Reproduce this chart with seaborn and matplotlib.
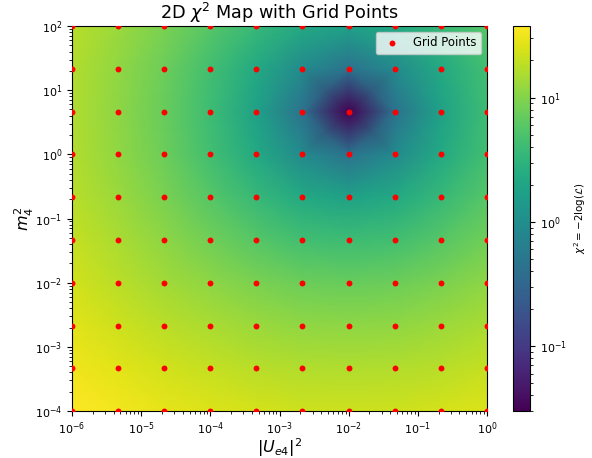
import numpy as np
import pandas as pd
import matplotlib
matplotlib.use("Agg")
import matplotlib.pyplot as plt
from matplotlib.colors import LogNorm
import seaborn as sns

# Grid coordinates (log-spaced)
u_e4_sq = [1e-6, 4.64e-6, 2.15e-5, 1e-4, 4.64e-4, 2.15e-3, 1e-2, 4.64e-2, 0.215, 1.0]
m4_sq = [1e-4, 4.64e-4, 2.15e-3, 1e-2, 4.64e-2, 0.215, 1.0, 4.64, 21.5, 100.0]

# chi^2 values at grid nodes (rows: m4_sq from low to high; cols: u_e4_sq low to high)
chi2_rows = [
    [37.8, 32.9, 28.9, 25.8, 23.6, 22.2, 21.8, 22.2, 23.6, 25.8],
    [32.0, 27.1, 23.1, 20.0, 17.8, 16.4, 16.0, 16.4, 17.8, 20.0],
    [27.1, 22.2, 18.2, 15.1, 12.9, 11.6, 11.1, 11.6, 12.9, 15.1],
    [23.1, 18.2, 14.2, 11.1, 8.9, 7.6, 7.1, 7.6, 8.9, 11.1],
    [20.0, 15.1, 11.1, 8.0, 5.8, 4.4, 4.0, 4.4, 5.8, 8.0],
    [17.8, 12.9, 8.9, 5.8, 3.6, 2.2, 1.8, 2.2, 3.6, 5.8],
    [16.4, 11.6, 7.6, 4.4, 2.2, 0.89, 0.44, 0.89, 2.2, 4.4],
    [16.0, 11.1, 7.1, 4.0, 1.8, 0.44, 0.03, 0.44, 1.8, 4.0],
    [16.4, 11.6, 7.6, 4.4, 2.2, 0.89, 0.44, 0.89, 2.2, 4.4],
    [17.8, 12.9, 8.9, 5.8, 3.6, 2.2, 1.8, 2.2, 3.6, 5.8],
]

W, H = 592, 458
fig = plt.figure(figsize=(W / 100, H / 100), dpi=100)
ax = fig.add_axes([72 / W, 47 / H, 415 / W, 385 / H])
cax = fig.add_axes([513 / W, 47 / H, 17 / W, 385 / H])

ax.set_xscale("log")
ax.set_yscale("log")

X, Y = np.meshgrid(np.array(u_e4_sq), np.array(m4_sq))
Z = np.array(chi2_rows)
mesh = ax.pcolormesh(X, Y, Z, shading="gouraud", cmap="viridis",
                     norm=LogNorm(vmin=Z.min(), vmax=Z.max()))

pts = pd.DataFrame({"x": X.ravel(), "y": Y.ravel()})
sns.scatterplot(data=pts, x="x", y="y", ax=ax, color="red", s=18,
                linewidth=0, label="Grid Points", zorder=3)

ax.set_xlim(1e-6, 1.0)
ax.set_ylim(1e-4, 100.0)
ax.set_xlabel(r"$|U_{e4}|^2$", fontsize=11.5, labelpad=-0.5)
ax.set_ylabel(r"$m_4^2$", fontsize=11.5, labelpad=-0.5)
ax.set_title(r"2D $\chi^2$ Map with Grid Points", fontsize=12.7, pad=5)
ax.tick_params(labelsize=8)
ax.legend(loc="upper right", fontsize=8.4)

cb = fig.colorbar(mesh, cax=cax)
cb.set_label(r"$\chi^2 = -2\log(\mathcal{L})$", fontsize=7.4)
cb.ax.tick_params(labelsize=8)

fig.savefig("out.png", dpi=100)
